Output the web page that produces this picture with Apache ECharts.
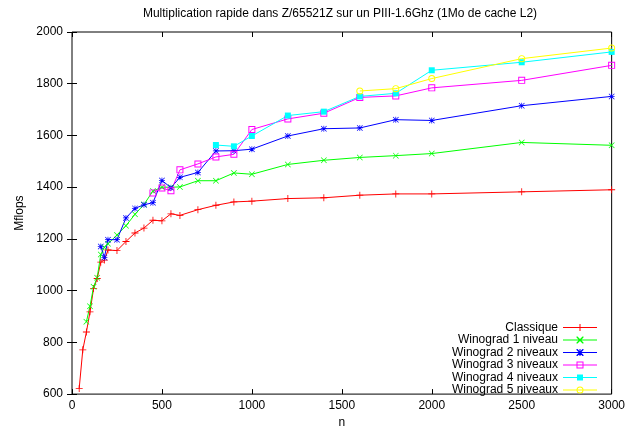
<!DOCTYPE html>
<html>
<head>
<meta charset="utf-8">
<script src="https://cdn.jsdelivr.net/npm/echarts@6/dist/echarts.min.js"></script>
<style>
  html, body { margin: 0; padding: 0; background: #fff; }
  #chart { width: 628px; height: 434px; }
</style>
</head>
<body>
<div id="chart"></div>
<script>
// values (n, Mfops)
const nClassique = [40, 60, 80, 100, 120, 140, 160, 180, 200, 250, 300, 350, 400, 450, 500, 550, 600, 700, 800, 900, 1000, 1200, 1400, 1600, 1800, 2000, 2500, 3000]
const vClassique = [622, 771, 840, 918, 1008, 1047, 1110, 1118, 1157, 1155, 1190, 1223, 1242, 1272, 1270, 1297, 1291, 1313, 1330, 1343, 1346, 1356, 1359, 1369, 1374, 1374, 1382, 1390]

const nWino1 = [80, 100, 120, 140, 160, 180, 200, 250, 300, 350, 400, 450, 500, 550, 600, 700, 800, 900, 1000, 1200, 1400, 1600, 1800, 2000, 2500, 3000]
const vWino1 = [880, 940, 1015, 1050, 1140, 1168, 1181, 1215, 1251, 1295, 1333, 1385, 1400, 1400, 1401, 1425, 1425, 1455, 1450, 1488, 1504, 1515, 1522, 1530, 1573, 1562]

const nWino2 = [160, 180, 200, 250, 300, 350, 400, 450, 500, 550, 600, 700, 800, 900, 1000, 1200, 1400, 1600, 1800, 2000, 2500, 3000]
const vWino2 = [1171, 1128, 1197, 1197, 1281, 1318, 1332, 1340, 1426, 1398, 1438, 1457, 1540, 1541, 1547, 1598, 1626, 1629, 1661, 1658, 1715, 1751]

const nWino3 = [450, 500, 550, 600, 700, 800, 900, 1000, 1200, 1400, 1600, 1800, 2000, 2500, 3000]
const vWino3 = [1378, 1397, 1386, 1467, 1490, 1517, 1527, 1623, 1664, 1686, 1747, 1753, 1784, 1813, 1871]

const nWino4 = [800, 900, 1000, 1200, 1400, 1600, 1800, 2000, 2500, 3000]
const vWino4 = [1563, 1558, 1598, 1677, 1692, 1751, 1763, 1852, 1883, 1923]

const nWino5 = [1600, 1800, 2000, 2500, 3000]
const vWino5 = [1772, 1781, 1820, 1897, 1938]

const xTicks = { min: 0, max: 3000, interval: 500 }
const yTicks = { min: 600, max: 2000, interval: 200 }

const names = ['Classique', 'Winograd 1 niveau', 'Winograd 2 niveaux', 'Winograd 3 niveaux', 'Winograd 4 niveaux', 'Winograd 5 niveaux']
const colors = ['#ff0000', '#00ff00', '#0000ff', '#ff00ff', '#00ffff', '#ffff00']

// gnuplot-like point shapes (10x10 box)
const PLUS = 'path://M4.4,0H5.6V4.4H10V5.6H5.6V10H4.4V5.6H0V4.4H4.4Z'
const CROSS = 'path://M0,0.8L0.8,0L10,9.2L9.2,10Z M9.2,0L10,0.8L0.8,10L0,9.2Z'
const STAR = 'path://M4.4,0H5.6V10H4.4Z M0,4.4H10V5.6H0Z M0,0.8L0.8,0L10,9.2L9.2,10Z M9.2,0L10,0.8L0.8,10L0,9.2Z'
const BOX = 'path://M0,0H10V10H0Z M1.4,1.4V8.6H8.6V1.4Z'
const RING = 'path://M5,0A5,5 0 1,1 5,10A5,5 0 1,1 5,0Z M5,1.4A3.6,3.6 0 1,0 5,8.6A3.6,3.6 0 1,0 5,1.4Z'

// legend samples: line + point in a 34x7 box
const KEY_LINE = 'M0,3H34V4H0Z'
const legendIcons = [
  'path://' + KEY_LINE + ' M16.5,0H17.5V7H16.5Z',
  'path://' + KEY_LINE + ' M13.5,0H14.5L20.5,6V7H19.5L13.5,1Z M20.5,0V1L14.5,7H13.5V6L19.5,0Z',
  'path://' + KEY_LINE + ' M16.5,0H17.5V7H16.5Z M13.5,0H14.5L20.5,6V7H19.5L13.5,1Z M20.5,0V1L14.5,7H13.5V6L19.5,0Z',
  'path://' + KEY_LINE + ' M13.5,0H20.5V7H13.5Z M14.5,1V6H19.5V1Z',
  'path://' + KEY_LINE + ' M14,0.5H20V6.5H14Z',
  'path://' + KEY_LINE + ' M17,0A3.5,3.5 0 1,1 17,7A3.5,3.5 0 1,1 17,0Z M17,1A2.5,2.5 0 1,0 17,6A2.5,2.5 0 1,0 17,1Z',
]

const FONT = 'Liberation Sans, Arial, sans-serif'

function pairs(ns, vs) {
  return ns.map((n, i) => [n, vs[i]])
}

function mkSeries(idx, ns, vs, symbol, size) {
  const color = colors[idx]
  return {
    name: names[idx],
    type: 'line',
    data: pairs(ns, vs),
    symbol,
    symbolSize: size,
    showAllSymbol: true,
    lineStyle: { color, width: 1 },
    itemStyle: { color, borderColor: color, borderWidth: 0 },
    emphasis: { disabled: true },
    animation: false,
  }
}

const chart = echarts.init(document.getElementById('chart'))

const mirrorAxis = {
  show: true,
  axisLine: { show: false },
  axisTick: { show: true, inside: true, length: 5, lineStyle: { color: '#000' } },
  axisLabel: { show: false },
  splitLine: { show: false },
}

chart.setOption({
  backgroundColor: '#fff',
  animation: false,
  textStyle: { fontFamily: FONT },
  title: {
    text: 'Multiplication rapide dans Z/65521Z sur un PIII-1.6Ghz (1Mo de cache L2)',
    left: 335,
    top: 3,
    textAlign: 'center',
    textStyle: { fontSize: 12, fontWeight: 'normal', color: '#000', fontFamily: FONT },
  },
  grid: {
    left: 72, right: 16, top: 32, bottom: 35,
    show: true, borderColor: '#000', borderWidth: 1, backgroundColor: 'transparent',
  },
  legend: {
    orient: 'vertical',
    right: 31,
    bottom: 38,
    padding: 0,
    align: 'right',
    itemWidth: 34,
    itemHeight: 7,
    itemGap: 0.5,
    textStyle: { fontSize: 12, color: '#000', fontFamily: FONT, lineHeight: 12 },
    data: names.map((name, i) => ({ name, icon: legendIcons[i] })),
  },
  xAxis: [
    {
      type: 'value',
      ...xTicks,
      name: 'n',
      nameLocation: 'middle',
      nameGap: 18,
      nameTextStyle: { fontSize: 12, color: '#000', fontFamily: FONT },
      axisLine: { show: false },
      axisTick: { inside: true, length: 5, lineStyle: { color: '#000' } },
      axisLabel: { color: '#000', fontSize: 12, margin: 6, fontFamily: FONT, formatter: (v) => String(v) },
      splitLine: { show: false },
    },
    { type: 'value', position: 'top', ...xTicks, ...mirrorAxis },
  ],
  yAxis: [
    {
      type: 'value',
      ...yTicks,
      name: 'Mflops',
      nameLocation: 'middle',
      nameGap: 44,
      nameTextStyle: { fontSize: 12, color: '#000', fontFamily: FONT },
      axisLine: { show: false },
      axisTick: { inside: true, length: 5, lineStyle: { color: '#000' } },
      axisLabel: { color: '#000', fontSize: 12, margin: 9, fontFamily: FONT, formatter: (v) => String(v) },
      splitLine: { show: false },
    },
    { type: 'value', position: 'right', ...yTicks, ...mirrorAxis },
  ],
  series: [
    mkSeries(0, nClassique, vClassique, PLUS, 7),
    mkSeries(1, nWino1, vWino1, CROSS, 6),
    mkSeries(2, nWino2, vWino2, STAR, 6),
    mkSeries(3, nWino3, vWino3, BOX, 7),
    mkSeries(4, nWino4, vWino4, 'rect', 6),
    mkSeries(5, nWino5, vWino5, RING, 7),
  ],
})
</script>
</body>
</html>
